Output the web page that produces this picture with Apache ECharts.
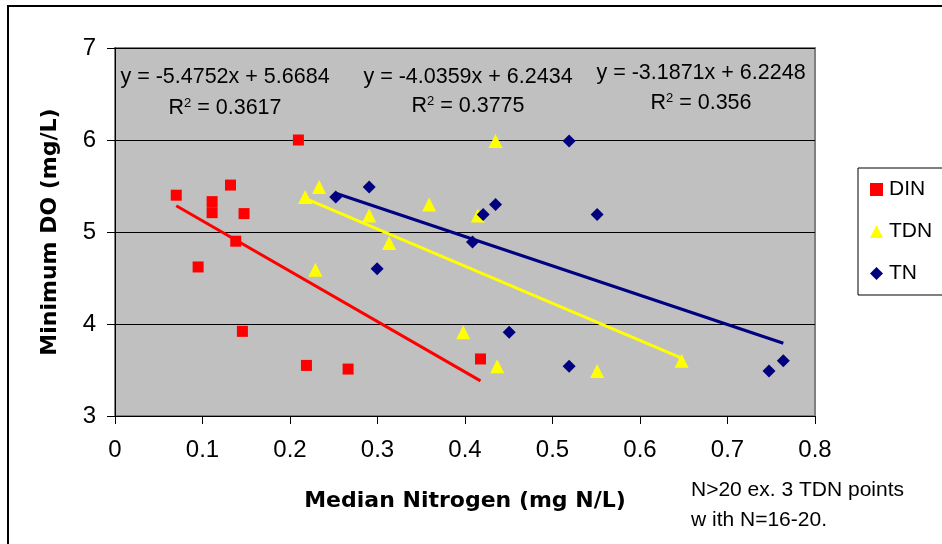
<!DOCTYPE html>
<html>
<head>
<meta charset="utf-8">
<script src="https://cdn.jsdelivr.net/npm/echarts@6/dist/echarts.min.js"></script>
<style>html,body{margin:0;padding:0;background:#fff;}#c{width:942px;height:544px;}</style>
</head>
<body>
<div id="c"></div>
<script>
// ---- data ----
var seriesNames = ['DIN', 'TDN', 'TN'];
var dinX = [0.070, 0.132, 0.111, 0.111, 0.1475, 0.138, 0.095, 0.1456, 0.2096, 0.2188, 0.2664, 0.4177];
var dinY = [5.40, 5.51, 5.33, 5.21, 5.20, 4.90, 4.62, 3.92, 6.00, 3.55, 3.51, 3.62];
var tdnX = [0.2173, 0.2333, 0.2905, 0.3133, 0.229, 0.359, 0.4349, 0.4147, 0.398, 0.4368, 0.551, 0.6476];
var tdnY = [5.38, 5.49, 5.18, 4.88, 4.59, 5.30, 5.99, 5.18, 3.91, 3.54, 3.49, 3.60];
var tnX = [0.2523, 0.2905, 0.2996, 0.519, 0.4349, 0.4208, 0.551, 0.4086, 0.4505, 0.519, 0.7474, 0.7638];
var tnY = [5.38, 5.49, 4.60, 5.99, 5.30, 5.19, 5.19, 4.89, 3.91, 3.54, 3.49, 3.60];
var trendSlope = [-5.4752, -4.0359, -3.1871];
var trendIntercept = [5.6684, 6.2434, 6.2248];
var trendR2 = ['0.3617', '0.3775', '0.356'];
var xTicks = [0, 0.1, 0.2, 0.3, 0.4, 0.5, 0.6, 0.7, 0.8];
var yTicks = [3, 4, 5, 6, 7];
var noteLines = ['N>20 ex. 3 TDN points', 'w ith N=16-20.'];

var FONT = '"Liberation Sans", Arial, sans-serif';
var TFONT = '"DejaVu Sans", "Liberation Sans", sans-serif';
var colors = ['#ff0000', '#ffff00', '#000080'];
var symbols = ['rect', 'triangle', 'diamond'];
var symSizes = [11, 14, 13];
var xs = [dinX, tdnX, tnX];
var ys = [dinY, tdnY, tnY];

function pairs(a, b) { return a.map(function (v, i) { return [v, b[i]]; }); }
function trend(i) {
  var mn = Math.min.apply(null, xs[i]), mx = Math.max.apply(null, xs[i]);
  return [[mn, trendSlope[i] * mn + trendIntercept[i]], [mx, trendSlope[i] * mx + trendIntercept[i]]];
}
function fmt(n) { return (n < 0 ? '-' : '') + Math.abs(n).toFixed(4).replace(/0+$/, ''); }

var series = [];
for (var i = 0; i < 3; i++) {
  series.push({
    name: seriesNames[i] + ' trend', type: 'line', data: trend(i), symbol: 'none',
    lineStyle: { color: colors[i], width: 3 }, z: 2, silent: true, animation: false
  });
}
for (var j = 0; j < 3; j++) {
  series.push({
    name: seriesNames[j], type: 'scatter', data: pairs(xs[j], ys[j]),
    symbol: symbols[j], symbolSize: symSizes[j],
    itemStyle: { color: colors[j], opacity: 1 }, z: 3, animation: false
  });
}

var eqPos = [[225, 77, 108], [468, 77, 106], [701, 73, 103]];
var graphics = [{
  type: 'rect', shape: { x: 8, y: 6, width: 1200, height: 1000 },
  style: { fill: 'none', stroke: '#000', lineWidth: 2 }, z: -10
}];
for (var k = 0; k < 3; k++) {
  graphics.push({
    type: 'text', x: eqPos[k][0], y: eqPos[k][1], z: 20,
    style: { text: 'y = ' + fmt(trendSlope[k]) + 'x + ' + fmt(trendIntercept[k]),
      font: '21.5px ' + FONT, fill: '#000', textAlign: 'center', textVerticalAlign: 'middle' }
  });
  graphics.push({
    type: 'text', x: eqPos[k][0], y: eqPos[k][2], z: 20,
    style: { text: '{n|R}{s|2}{n| = ' + trendR2[k] + '}',
      textAlign: 'center', textVerticalAlign: 'middle',
      rich: { n: { font: '21.5px ' + FONT, fill: '#000' }, s: { font: '13px ' + FONT, fill: '#000', verticalAlign: 'top', padding: [0, 0, 8, 0] } } }
  });
}
graphics.push({
  type: 'text', x: 691, y: 490, z: 20,
  style: { text: noteLines[0], font: '21px ' + FONT, fill: '#000', textVerticalAlign: 'middle' }
});
graphics.push({
  type: 'text', x: 691, y: 520, z: 20,
  style: { text: noteLines[1], font: '21px ' + FONT, fill: '#000', textVerticalAlign: 'middle' }
});

var chart = echarts.init(document.getElementById('c'), null, { renderer: 'canvas' });
chart.setOption({
  animation: false,
  backgroundColor: '#fff',
  textStyle: { fontFamily: FONT },
  grid: { left: 115, top: 48, right: 127, bottom: 128, show: true, backgroundColor: '#c0c0c0', borderColor: '#808080', borderWidth: 2 },
  xAxis: {
    type: 'value', min: xTicks[0], max: xTicks[xTicks.length - 1], interval: 0.1,
    name: 'Median Nitrogen (mg N/L)', nameLocation: 'middle', nameGap: 74,
    nameTextStyle: { fontSize: 22, fontWeight: 'bold', color: '#000', fontFamily: TFONT },
    axisLine: { show: true, onZero: false, lineStyle: { color: '#000', width: 1 } },
    axisTick: { show: true, inside: false, length: 8, lineStyle: { color: '#000' } },
    axisLabel: { fontSize: 24, color: '#000', margin: 22, fontFamily: FONT },
    splitLine: { show: false }
  },
  yAxis: {
    type: 'value', min: yTicks[0], max: yTicks[yTicks.length - 1], interval: 1,
    name: 'Minimum DO (mg/L)', nameLocation: 'middle', nameGap: 54,
    nameTextStyle: { fontSize: 22, fontWeight: 'bold', color: '#000', fontFamily: TFONT },
    axisLine: { show: true, onZero: false, lineStyle: { color: '#000', width: 1 } },
    axisTick: { show: true, inside: false, length: 8, lineStyle: { color: '#000' } },
    axisLabel: { fontSize: 24, color: '#000', margin: 19, fontFamily: FONT },
    splitLine: { show: true, lineStyle: { color: '#000', width: 1 } }
  },
  legend: {
    orient: 'vertical', left: 858, top: 168,
    data: seriesNames.map(function (n, i) { return { name: n, icon: symbols[i] }; }),
    itemWidth: 13, itemHeight: 13, itemGap: 21,
    padding: [11, 60, 11, 12],
    borderColor: '#000', borderWidth: 1, backgroundColor: '#fff',
    textStyle: { fontSize: 21, color: '#000', fontFamily: FONT, padding: [0, 0, 0, 1] }
  },
  graphic: graphics,
  series: series
});
</script>
</body>
</html>
